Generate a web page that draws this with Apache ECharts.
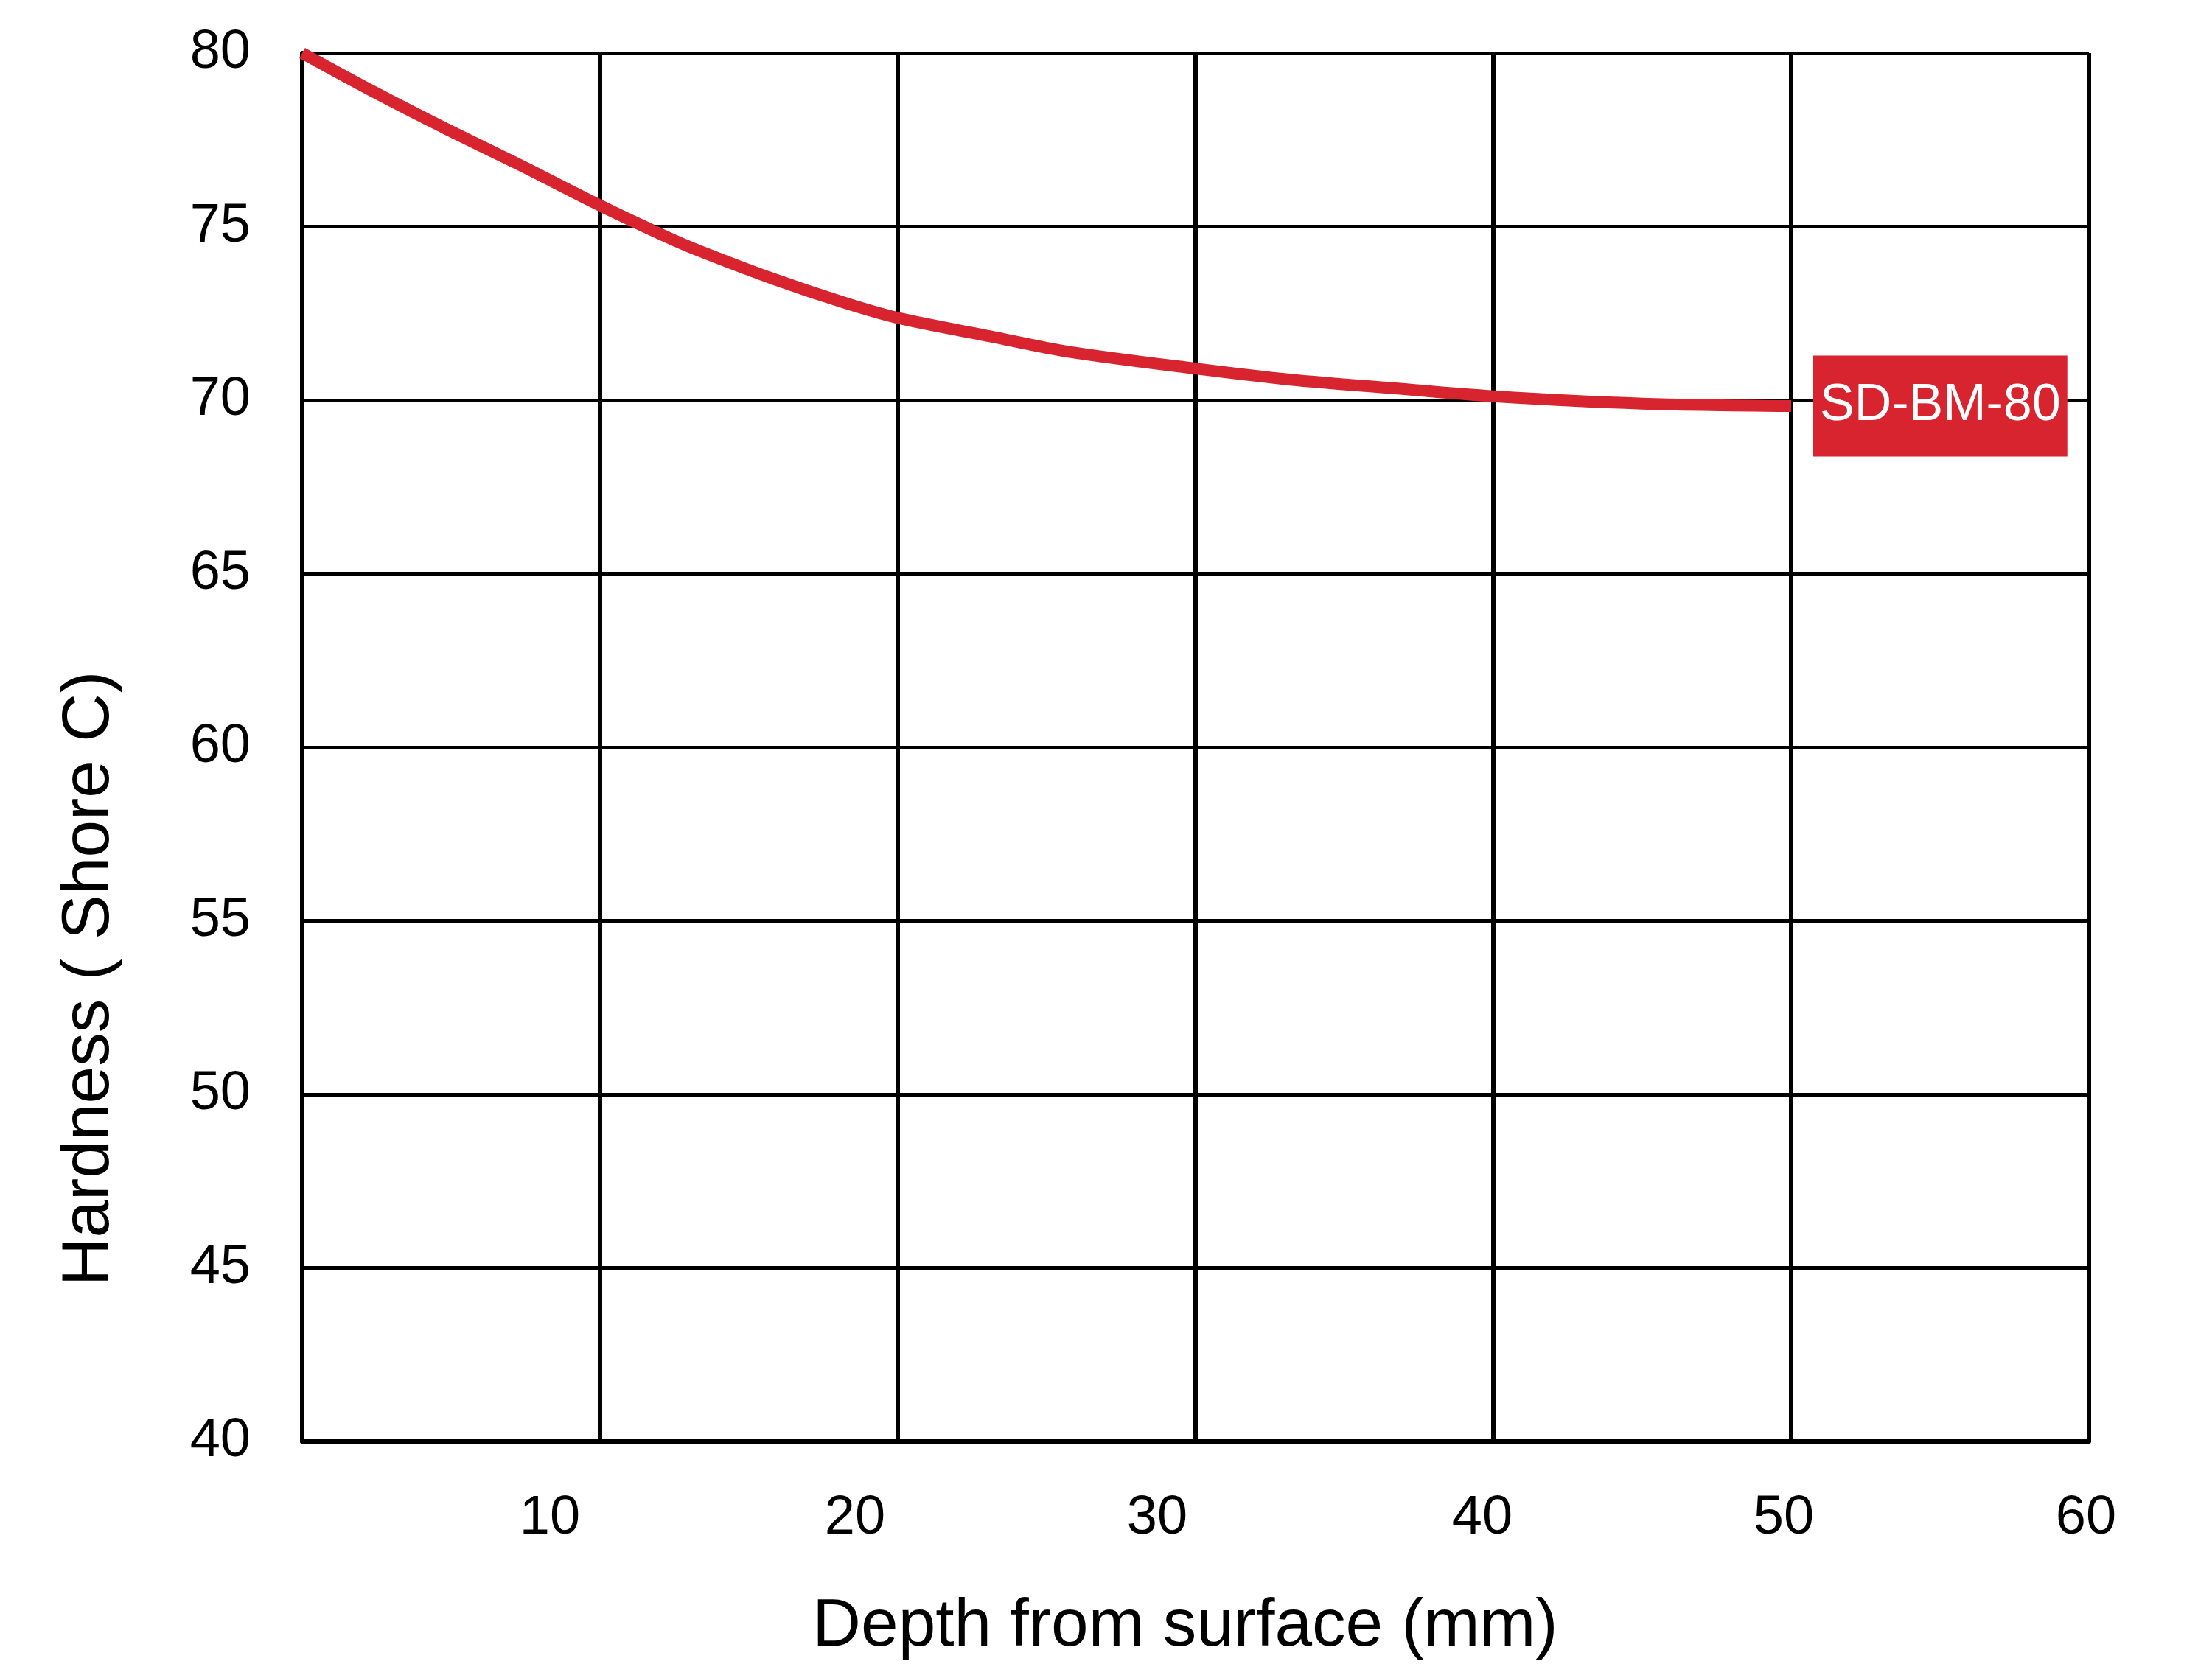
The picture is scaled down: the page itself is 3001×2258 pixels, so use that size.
<!DOCTYPE html>
<html>
<head>
<meta charset="utf-8">
<script src="https://cdn.jsdelivr.net/npm/echarts@6/dist/echarts.min.js"></script>
<style>
  html, body { margin: 0; padding: 0; background: #ffffff; }
  #chart { width: 3001px; height: 2258px; }
</style>
</head>
<body>
<div id="chart"></div>
<script>
// Depth from surface (mm)
const depth = [0, 2.3, 4.8, 7.3, 10, 12.2, 13.4, 15.8, 18.2, 20, 23.1, 25.7, 30, 33.2, 36.7, 40, 45, 50];
// Hardness (Shore C)
const hardness = [80, 78.93, 77.83, 76.78, 75.61, 74.72, 74.28, 73.5, 72.81, 72.37, 71.84, 71.4, 70.91, 70.59, 70.34, 70.11, 69.9, 69.83];
const seriesName = 'SD-BM-80';
const xTickLabels = [10, 20, 30, 40, 50, 60];
const yTickLabels = [40, 45, 50, 55, 60, 65, 70, 75, 80];

const FONT = 'Liberation Sans, Arial, Helvetica, sans-serif';
const RED = '#D7242F';

// label nudges (style only): shift each x tick label left, as in the reference
const xLabelShift = {10: 68, 20: 58, 30: 52, 40: 15, 50: 10, 60: 4};
const rich = {};
xTickLabels.forEach(v => {
  rich['t' + v] = {
    fontFamily: FONT, fontSize: 74, color: '#000',
    padding: [0, 2 * xLabelShift[v], 0, 0]
  };
});

const chart = echarts.init(document.getElementById('chart'), null, { renderer: 'canvas' });
chart.setOption({
  animation: false,
  backgroundColor: '#ffffff',
  grid: { left: 410, right: 167, top: 72, bottom: 294, containLabel: false },
  xAxis: {
    type: 'value',
    min: 0, max: 60, interval: 10,
    name: 'Depth from surface (mm)',
    nameLocation: 'middle',
    nameGap: 206,
    nameTextStyle: { fontFamily: FONT, fontSize: 91, color: '#000', padding: [0, 28, 0, 0] },
    axisLine: { show: true, lineStyle: { color: '#000', width: 6 } },
    axisTick: { show: false },
    axisLabel: {
      showMinLabel: false,
      margin: 68,
      fontFamily: FONT, fontSize: 74, color: '#000',
      formatter: v => xTickLabels.indexOf(v) >= 0 ? '{t' + v + '|' + v + '}' : '',
      rich: rich
    },
    splitLine: { show: true, lineStyle: { color: '#000', width: 6 } }
  },
  yAxis: {
    type: 'value',
    min: 40, max: 80, interval: 5,
    name: 'Hardness ( Shore C)',
    nameLocation: 'middle',
    nameGap: 243,
    nameTextStyle: { fontFamily: FONT, fontSize: 91, color: '#000', padding: [0, 628, 0, 0] },
    axisLine: { show: true, lineStyle: { color: '#000', width: 6 } },
    axisTick: { show: false },
    axisLabel: {
      margin: 70,
      fontFamily: FONT, fontSize: 74, color: '#000',
      formatter: v => yTickLabels.indexOf(v) >= 0 ? String(v) : ''
    },
    splitLine: { show: true, lineStyle: { color: '#000', width: 5 } }
  },
  series: [{
    name: seriesName,
    type: 'line',
    data: depth.map((d, i) => [d, hardness[i]]),
    smooth: 0.3,
    showSymbol: false,
    symbol: 'none',
    lineStyle: { color: RED, width: 16, cap: 'butt' },
    itemStyle: { color: RED },
    z: 5,
    endLabel: {
      show: true,
      formatter: seriesName,
      distance: 30,
      fontFamily: FONT, fontSize: 70, color: '#ffffff',
      backgroundColor: RED,
      padding: [34, 9, 33, 9]
    }
  }]
});
</script>
</body>
</html>
